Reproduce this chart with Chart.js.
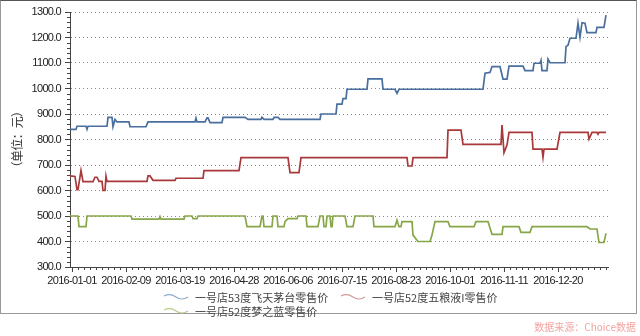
<!DOCTYPE html>
<html lang="zh">
<head>
<meta charset="UTF-8">
<title>一号店白酒零售价</title>
<script src="https://cdn.jsdelivr.net/npm/chart.js@4"></script>
<style>
  body{margin:0;background:#fff;}
  #wrap{position:relative;width:640px;height:336px;overflow:hidden;}
  #frame{position:absolute;left:0;top:0;width:637px;height:314px;box-sizing:border-box;border:1px solid #999;border-top-color:#555;pointer-events:none;}
  #legend{position:absolute;left:163px;top:290px;font:11px "Noto Sans CJK SC",sans-serif;color:#444;}
  .item{position:absolute;white-space:nowrap;display:flex;align-items:center;height:14px;}
  .item svg{margin-right:6px;}
  #source{position:absolute;right:4px;top:319px;font:10px "Noto Sans CJK SC",sans-serif;color:#f2a3a0;}
</style>
</head>
<body>
<div id="wrap">
  <canvas id="c" width="640" height="336"></canvas>
  <div id="frame"></div>
  <div id="legend"></div>
  <div id="source">数据来源：Choice数据</div>
</div>
<script>
// x 轴刻度（交易日序号 -> 日期）
const tickDays   = [0, 27, 54, 81, 108, 135, 162, 189, 216, 243];
const tickLabels = ['2016-01-01','2016-02-09','2016-03-19','2016-04-28','2016-06-06','2016-07-15','2016-08-23','2016-10-01','2016-11-11','2016-12-20'];

const seriesNames = ['一号店53度飞天茅台零售价', '一号店52度五粮液I零售价', '一号店52度梦之蓝零售价'];

// 飞天茅台
const maotaiDay   = [-1,2,2.5,7,7.5,8,17.5,18,20,20.5,21.5,22.5,28.5,29,37,38,61.5,62,62.5,66.5,67.5,68,69,75,75.5,86.5,88,94.5,95,96,100.5,101,103,104,124,124.5,132,132.5,135,135.5,137,137.5,147.5,148,155,155.5,161.5,162.5,163.5,205.5,206.5,209,210,214,215.5,217.5,218.5,225.5,226.5,230.5,231,234,234.5,235,237.5,238,239,246.5,247,248,249,252,253,254,255,256.5,257.5,262,262.5,266,267];
const maotaiPrice = [840,840,852,852,840,852,852,887,887,850,879,869,869,850,850,869,869,884,869,869,885,885,866,866,887,887,879,879,887,879,879,887,887,879,879,900,900,939,939,960,960,997,997,1038,1038,997,997,981,997,997,1060,1063,1086,1086,1037,1037,1088,1088,1070,1070,1099,1099,1110,1070,1070,1115,1101,1101,1164,1170,1197,1197,1256,1201,1258,1256,1219,1219,1240,1240,1288];

// 五粮液
const wlyDay   = [-1,1.5,2.5,3,4.5,5.5,10.5,11.5,12.5,13.5,15,15.5,16.5,17,17.5,37.5,38,39,40.5,51.5,52,65.5,66,83.5,84.5,108,109,113.5,114.5,167.5,168,170,170.5,187.5,188,194.5,195.5,214.5,215,216,217.5,218.5,230,230.5,235,235.5,236,242.5,244,258,258.5,260,262.5,263,263.5,267];
const wlyPrice = [657,655,603,603,679,635,635,652,652,636,636,600,600,656,636,636,657,657,640,640,648,648,678,678,729,729,670,670,729,729,696,696,729,729,837,837,781,781,857,748,778,828,828,762,762,730,762,762,828,828,802,828,828,821,828,828];

// 梦之蓝
const mzlDay   = [-1,3,3.5,7,7.5,29.5,30,43.5,44,44.5,56,56.5,60,60.5,62.5,63,86.5,87.5,94,95,95.5,96,100,100.5,102.5,103,106,106.5,108,112.5,113,117,117.5,123,124,125.5,126,127,127.5,129,129.5,130,130.5,136.5,137.5,140.5,141.5,150.5,151,161.5,162.5,163.5,164.5,165,170,170.5,172,173,179,180,181.5,188,189,201,202,208,210,215,215.5,223.5,224.5,229,230,257.5,259,262.5,263.5,266,267];
const mzlPrice = [500,500,458,458,500,500,488,488,498,488,488,500,500,490,490,500,500,458,458,500,500,458,458,500,500,458,458,478,490,490,500,500,458,458,500,500,458,458,500,500,458,458,500,500,458,458,500,500,458,458,484,458,458,478,478,425,410,400,400,425,478,478,458,458,478,478,428,428,458,458,436,436,458,458,449,449,396,396,432];

const colors     = ['#4a6e9e', '#a8383a', '#87a648'];
const iconColors = ['#8fa9cc', '#cf9a98', '#b9cc8c'];

const pts = (d, v) => d.map((x, i) => ({x, y: v[i]}));

// 刻度文字略窄一些
const narrowText = {
  id: 'narrowText',
  beforeLayout(chart) { chart.ctx.letterSpacing = '-0.7px'; },
  beforeDraw(chart) { chart.ctx.letterSpacing = '-0.7px'; }
};

// 次刻度
const minorTicks = {
  id: 'minorTicks',
  afterDraw(chart) {
    const {ctx, scales: {x, y}} = chart;
    ctx.save();
    ctx.strokeStyle = '#444';
    ctx.lineWidth = 1;
    ctx.beginPath();
    for (let v = 300; v <= 1300; v += 20) {
      if (v % 100 === 0) continue;
      const py = Math.round(y.getPixelForValue(v)) + 0.5;
      ctx.moveTo(x.left - 3, py); ctx.lineTo(x.left, py);
    }
    for (let d = 0; d <= 267; d += 3) {
      if (d % 27 === 0) continue;
      const px = Math.round(x.getPixelForValue(d)) + 0.5;
      ctx.moveTo(px, y.bottom); ctx.lineTo(px, y.bottom + 3);
    }
    ctx.stroke();
    ctx.restore();
  }
};

Chart.defaults.font.family = '"Liberation Sans", Arial, sans-serif';
Chart.defaults.font.size = 11;
Chart.defaults.color = '#222';

const chart = new Chart(document.getElementById('c'), {
  type: 'line',
  data: {
    datasets: [
      {label: seriesNames[0], data: pts(maotaiDay, maotaiPrice), borderColor: colors[0]},
      {label: seriesNames[1], data: pts(wlyDay, wlyPrice), borderColor: colors[1]},
      {label: seriesNames[2], data: pts(mzlDay, mzlPrice), borderColor: colors[2]}
    ]
  },
  options: {
    responsive: false,
    animation: false,
    layout: {padding: {top: 12, right: 32, left: 0, bottom: 0}},
    elements: {line: {borderWidth: 1.7, tension: 0}, point: {radius: 0}},
    plugins: {legend: {display: false}, tooltip: {enabled: false}},
    scales: {
      x: {
        type: 'linear', min: -1, max: 268,
        afterFit(s) { s.height = 69; },
        afterBuildTicks(s) { s.ticks = tickDays.map(v => ({value: v})); },
        ticks: {autoSkip: false, maxRotation: 0, padding: 2,
                callback: v => tickLabels[tickDays.indexOf(v)]},
        grid: {drawOnChartArea: false, color: '#444', tickLength: 5},
        border: {color: '#444'}
      },
      y: {
        min: 300, max: 1300,
        afterFit(s) { s.width = 70; },
        ticks: {stepSize: 100, padding: 4, callback: v => v.toFixed(1)},
        grid: {color: '#888', tickColor: '#444', tickLength: 5},
        border: {color: '#444', dash: [1, 3]},
        title: {display: true, text: '（单位：元）', color: '#333',
                font: {family: '"Noto Sans CJK SC", sans-serif', size: 12},
                padding: {top: 10, bottom: 0}}
      }
    }
  },
  plugins: [narrowText, minorTicks]
});

// 图例
const legend = document.getElementById('legend');
const slots = [[0, 0], [177, 0], [0, 14]];
chart.data.datasets.forEach((ds, i) => {
  const el = document.createElement('div');
  el.className = 'item';
  el.style.left = slots[i][0] + 'px';
  el.style.top = slots[i][1] + 'px';
  el.innerHTML = '<svg width="26" height="8"><path d="M1 3 Q7 0 13 4 T25 4" fill="none" stroke="' +
    iconColors[i] + '" stroke-width="1.2"/></svg><span>' + ds.label + '</span>';
  legend.appendChild(el);
});
</script>
</body>
</html>
